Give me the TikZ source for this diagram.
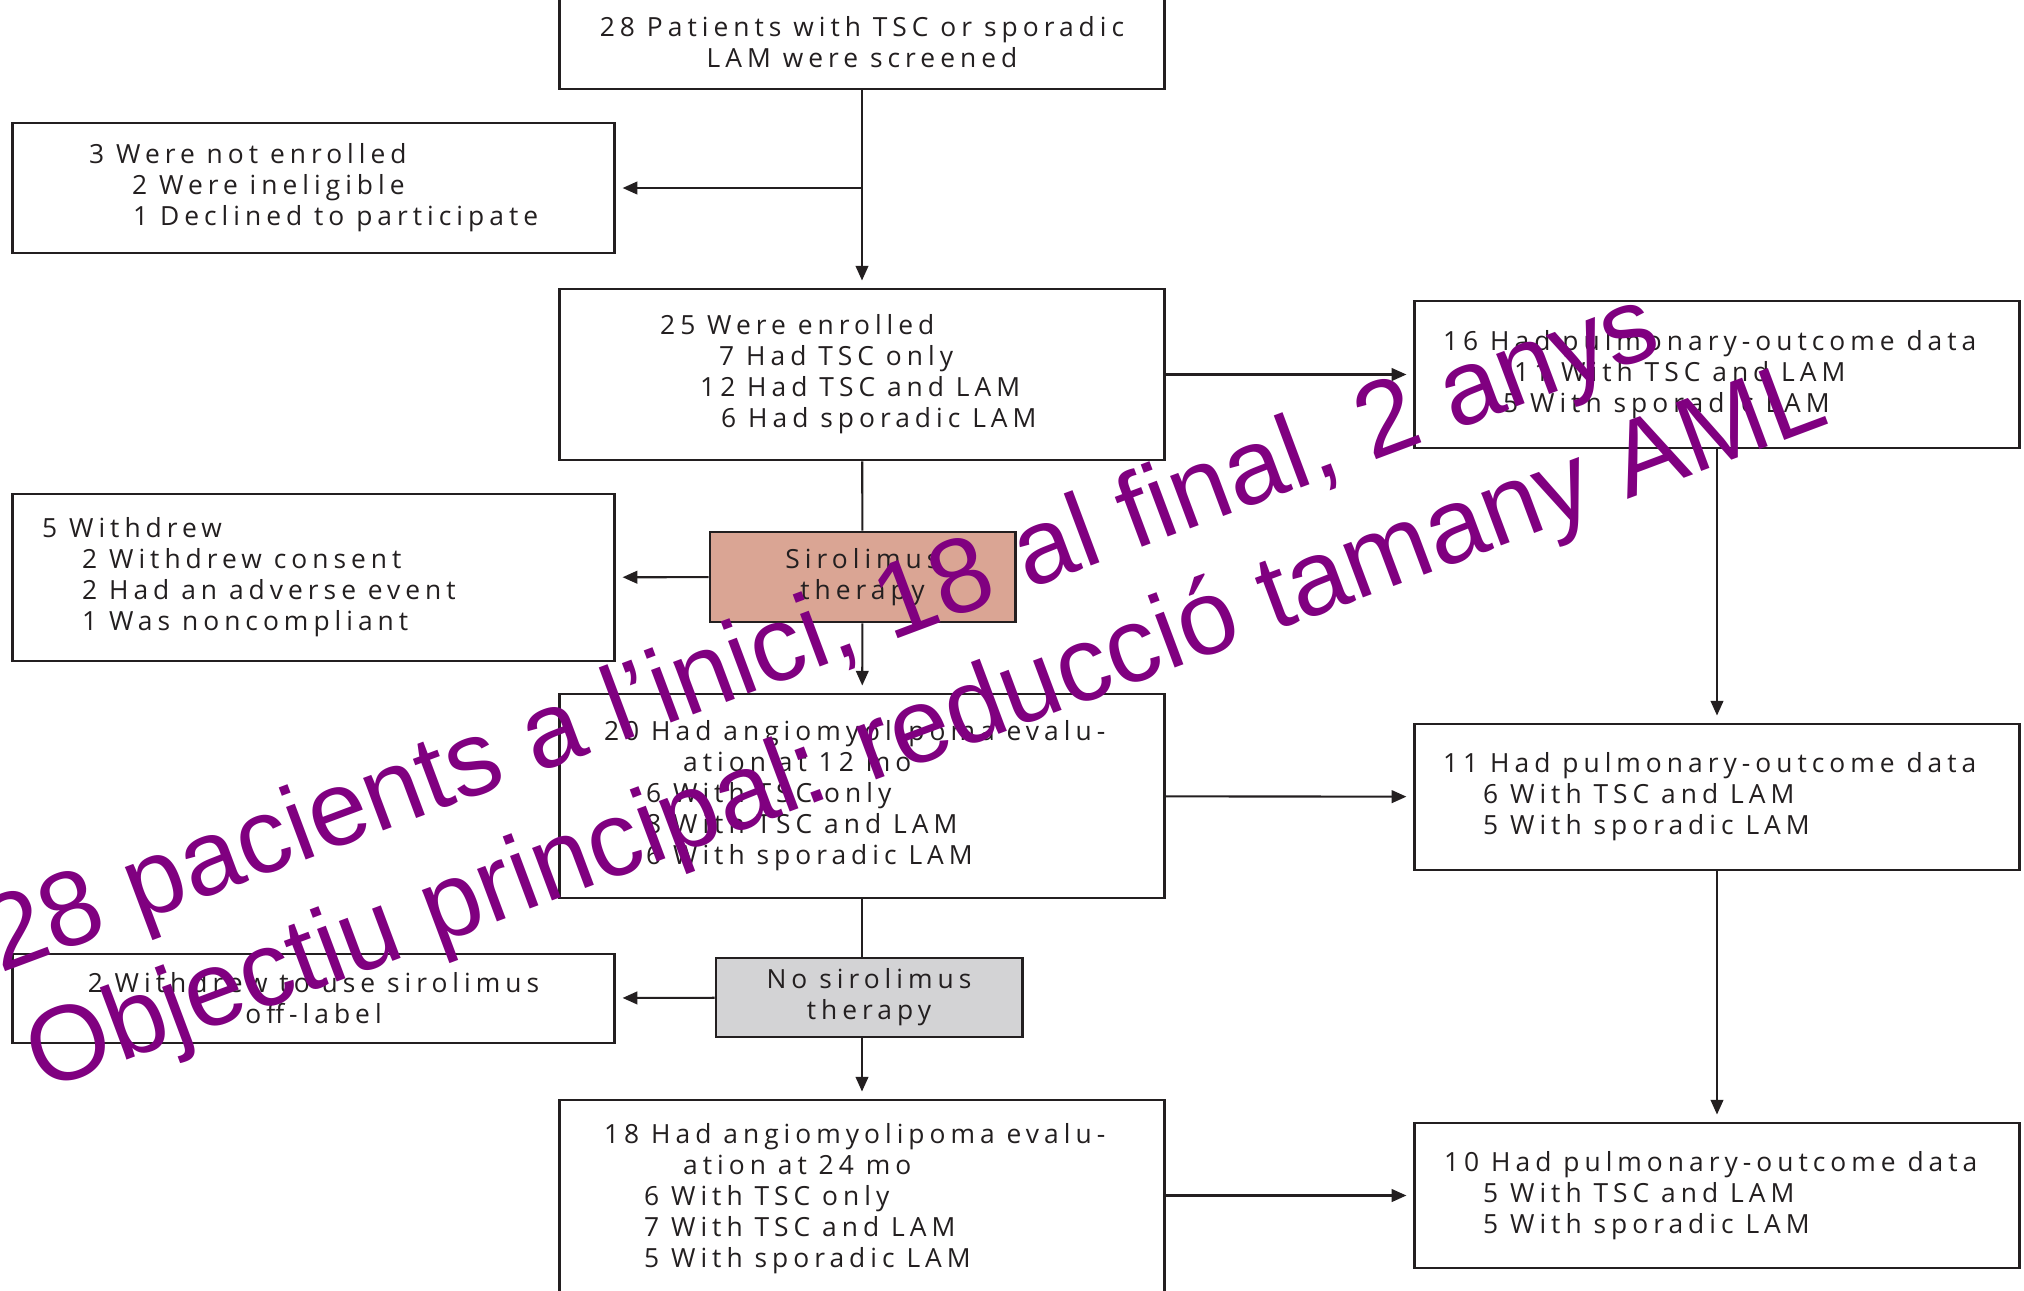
\documentclass[tikz,border=0pt]{standalone}
\usepackage{fontspec}
\setmainfont{Open Sans}[LetterSpace=19]
\newfontfamily\markfont{Liberation Sans}
\usetikzlibrary{positioning, arrows.meta}
\definecolor{lineblack}{RGB}{35, 31, 32}
\definecolor{sirofill}{RGB}{218, 165, 148}
\definecolor{nosirofill}{RGB}{211, 211, 213}
\definecolor{markpurple}{RGB}{128, 0, 128}

\begin{document}
\begin{tikzpicture}[
    x=0.01cm, y=-0.01cm,
    flownode/.style={draw=lineblack, line width=0.8pt, fill=white, inner sep=0pt, align=center, text=lineblack, font=\fontsize{7.5}{8.8}\selectfont},
    listtext/.style={inner sep=0pt, align=left, text=lineblack, font=\fontsize{7.5}{8.8}\selectfont},
    arrow/.style={-{Triangle[length=4.2pt, width=3.6pt]}, line width=0.6pt, lineblack, shorten >=0.07cm},
    link/.style={line width=0.6pt, lineblack},
    watermark/.style={inner sep=0pt, anchor=base west, rotate=20.5, text=markpurple, font=\markfont\fontsize{30.2}{36}\selectfont}
]
    \useasboundingbox (0,0) rectangle (2024,1290);

    % main column
    \node[flownode, minimum width=6.04cm, minimum height=0.94cm] (screened) at (862,42) {28 Patients with TSC or sporadic\\LAM were screened};
    \node[flownode, minimum width=6.04cm, minimum height=1.71cm] (enrolled) at (862,374.5) {};
    \node[listtext, right=1.01cm of enrolled.west] (enrolledtext) {25 Were enrolled\\\hspace*{0.59cm}7 Had TSC only\\\hspace*{0.40cm}12 Had TSC and LAM\\\hspace*{0.61cm}6 Had sporadic LAM};
    \node[flownode, fill=sirofill, minimum width=3.05cm, minimum height=0.90cm] (sirolimus) at (862.5,577) {Sirolimus\\therapy};
    \node[flownode, minimum width=6.04cm, minimum height=2.04cm] (evaltwelve) at (862,796) {};
    \node[listtext, right=0.45cm of evaltwelve.west] (evaltwelvetext) {20 Had angiomyolipoma evalu-\\\hspace*{0.79cm}ation at 12 mo\\\hspace*{0.42cm}6 With TSC only\\\hspace*{0.42cm}8 With TSC and LAM\\\hspace*{0.42cm}6 With sporadic LAM};
    \node[flownode, fill=nosirofill, minimum width=3.06cm, minimum height=0.79cm] (nosiro) at (869,997.5) {No sirolimus\\therapy};
    \node[flownode, minimum width=6.04cm, minimum height=1.98cm] (evaltwentyfour) at (862,1199) {};
    \node[listtext, right=0.45cm of evaltwentyfour.west] (evaltwentyfourtext) {18 Had angiomyolipoma evalu-\\\hspace*{0.79cm}ation at 24 mo\\\hspace*{0.40cm}6 With TSC only\\\hspace*{0.40cm}7 With TSC and LAM\\\hspace*{0.40cm}5 With sporadic LAM};

    % drop-outs
    \node[flownode, minimum width=6.01cm, minimum height=1.30cm] (notenrolled) at (313.5,188) {};
    \node[listtext, right=0.77cm of notenrolled.west] (notenrolledtext) {3 Were not enrolled\\\hspace*{0.43cm}2 Were ineligible\\\hspace*{0.44cm}1 Declined to participate};
    \node[flownode, minimum width=6.01cm, minimum height=1.67cm] (withdrew) at (313.5,577.5) {};
    \node[listtext, right=0.30cm of withdrew.west] (withdrewtext) {5 Withdrew\\\hspace*{0.40cm}2 Withdrew consent\\\hspace*{0.40cm}2 Had an adverse event\\\hspace*{0.40cm}1 Was noncompliant};
    \node[flownode, minimum width=6.01cm, minimum height=0.89cm] (offlabel) at (313.5,998.5) {2 Withdrew to use sirolimus\\off-label};

    % pulmonary outcome column
    \node[flownode, minimum width=6.04cm, minimum height=1.47cm] (pulmsixteen) at (1717,374.5) {};
    \node[listtext, right=0.29cm of pulmsixteen.west] (pulmsixteentext) {16 Had pulmonary-outcome data\\\hspace*{0.71cm}11 With TSC and LAM\\\hspace*{0.60cm}5 With sporadic LAM};
    \node[flownode, minimum width=6.04cm, minimum height=1.46cm] (pulmeleven) at (1717,797) {};
    \node[listtext, right=0.29cm of pulmeleven.west] (pulmeleventext) {11 Had pulmonary-outcome data\\\hspace*{0.40cm}6 With TSC and LAM\\\hspace*{0.40cm}5 With sporadic LAM};
    \node[flownode, minimum width=6.04cm, minimum height=1.45cm] (pulmten) at (1717,1195.5) {};
    \node[listtext, right=0.30cm of pulmten.west] (pulmtentext) {10 Had pulmonary-outcome data\\\hspace*{0.39cm}5 With TSC and LAM\\\hspace*{0.39cm}5 With sporadic LAM};

    % connectors
    \draw [arrow] (screened) -- (enrolled);
    \draw [arrow] (notenrolled -| screened) -- (notenrolled);
    \draw [arrow] (enrolled) -- (pulmsixteen);
    \draw [link] (enrolled) -- (sirolimus);
    \draw [arrow] (sirolimus) -- (evaltwelve);
    \draw [arrow] (sirolimus) -- (withdrew);
    \draw [arrow] (pulmsixteen) -- (pulmeleven);
    \draw [arrow] (evaltwelve) -- (pulmeleven);
    \draw [link] (evaltwelve.south) -- (evaltwelve.south |- nosiro.north);
    \draw [arrow] (nosiro.south -| evaltwentyfour.north) -- (evaltwentyfour.north);
    \draw [arrow] (nosiro) -- (offlabel);
    \draw [arrow] (pulmeleven) -- (pulmten);
    \draw [arrow] (pulmten -| evaltwentyfour.east) -- (pulmten);

    % overlay
    \node[watermark] (markone) at (0,974) {28 pacients a l’inici, 18 al final, 2 anys};
    \node[watermark] (marktwo) at (42,1092) {Objectiu principal: reducció tamany AML};
\end{tikzpicture}
\end{document}
